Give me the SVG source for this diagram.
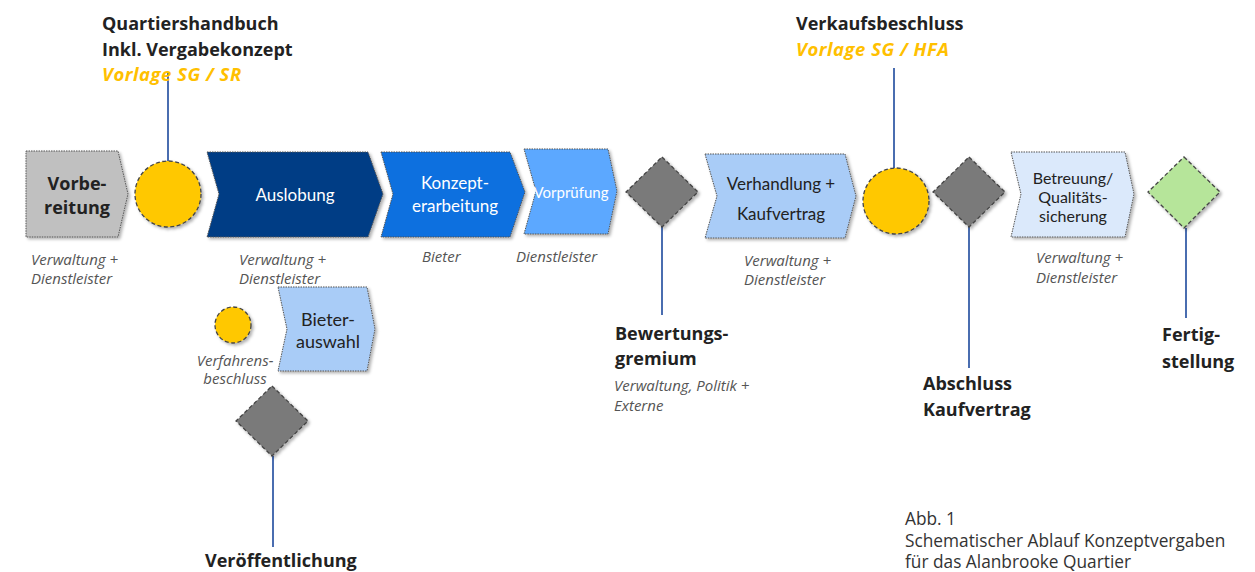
<svg xmlns="http://www.w3.org/2000/svg" width="1255" height="572" viewBox="0 0 1255 572">
<defs>
<filter id="sh" x="-20%" y="-20%" width="150%" height="150%">
<feDropShadow dx="2" dy="2" stdDeviation="1.5" flood-color="#000" flood-opacity="0.3"/>
</filter>
<style>
.chev{stroke:#555;stroke-width:1;stroke-dasharray:1.5 1;filter:url(#sh)}
.ev{stroke:#444;stroke-width:1.3;stroke-dasharray:4 2.5;filter:url(#sh)}
.conn{stroke:#4a6db0;stroke-width:2;fill:none}
.t{font-family:Lato,"Liberation Sans",sans-serif}
.bold{font-family:"Open Sans",sans-serif;font-weight:bold;font-size:18px;fill:#222}
.gold{font-family:"Open Sans",sans-serif;font-weight:bold;font-style:italic;font-size:18.5px;letter-spacing:0.5px;fill:#ffc000}
.role{font-family:"Open Sans",sans-serif;font-style:italic;font-size:15px;fill:#555}
.cap{font-family:"Open Sans",sans-serif;font-size:17.3px;fill:#333}
</style>
</defs>
<rect width="1255" height="572" fill="#fff"/>
<g id="connectors">
<line class="conn" x1="168" y1="161" x2="168" y2="72"/>
<line class="conn" x1="662" y1="227" x2="662" y2="315"/>
<line class="conn" x1="894" y1="168" x2="894" y2="68"/>
<line class="conn" x1="969" y1="227" x2="969" y2="368"/>
<line class="conn" x1="1186" y1="228" x2="1186" y2="318"/>
<line class="conn" x1="273" y1="456" x2="273" y2="547"/>
</g>
<g id="vorbereitung">
<path class="chev" d="M26,151 L118,151 L128,194 L118,237 L26,237 Z" fill="#c0c0c0"/>
<text class="bold" x="77" y="190" text-anchor="middle">Vorbe-</text>
<text class="bold" x="77" y="214" text-anchor="middle">reitung</text>
<text class="role" x="31" y="265">Verwaltung +</text>
<text class="role" x="31" y="284">Dienstleister</text>
</g>
<g id="quartiershandbuch">
<circle class="ev" cx="168" cy="194" r="33" fill="#ffc800"/>
<text class="bold" x="102" y="30">Quartiershandbuch</text>
<text class="bold" x="102" y="56">Inkl. Vergabekonzept</text>
<text class="gold" x="102" y="81">Vorlage SG / SR</text>
</g>
<g id="auslobung">
<path class="chev" d="M207,152 L368,152 L383,194 L368,237 L207,237 L219,194 Z" fill="#003d85"/>
<text class="t" x="295" y="201" text-anchor="middle" font-size="17" fill="#fff">Auslobung</text>
<text class="role" x="239" y="265">Verwaltung +</text>
<text class="role" x="239" y="284">Dienstleister</text>
</g>
<g id="konzepterarbeitung">
<path class="chev" d="M381,152 L510,152 L525,192 L510,237 L381,237 L393,194 Z" fill="#0a6fdf"/>
<text class="t" x="455" y="189" text-anchor="middle" font-size="17" fill="#fff">Konzept-</text>
<text class="t" x="455" y="212" text-anchor="middle" font-size="17" fill="#fff">erarbeitung</text>
<text class="role" x="422" y="262">Bieter</text>
</g>
<g id="vorpruefung">
<path class="chev" d="M524,149 L608,149 L617,191 L608,234 L524,234 L536,191 Z" fill="#5ba8ff"/>
<text class="t" x="571" y="198" text-anchor="middle" font-size="15" fill="#fff">Vorprüfung</text>
<text class="role" x="516" y="262">Dienstleister</text>
</g>
<g id="bewertungsgremium">
<path class="ev" d="M662,157 L698,192 L662,227 L626,192 Z" fill="#7a7a7a"/>
<text class="bold" x="615" y="340">Bewertungs-</text>
<text class="bold" x="615" y="365">gremium</text>
<text class="role" x="614" y="391">Verwaltung, Politik +</text>
<text class="role" x="614" y="411">Externe</text>
</g>
<g id="verhandlung">
<path class="chev" d="M705,154 L845,154 L856,196 L845,238 L705,238 L717,196 Z" fill="#a9ccf7"/>
<text class="t" x="781" y="190" text-anchor="middle" font-size="17" fill="#222">Verhandlung +</text>
<text class="t" x="781" y="220" text-anchor="middle" font-size="17" fill="#222">Kaufvertrag</text>
<text class="role" x="744" y="266">Verwaltung +</text>
<text class="role" x="744" y="285">Dienstleister</text>
</g>
<g id="verkaufsbeschluss">
<circle class="ev" cx="896" cy="201" r="33" fill="#ffc800"/>
<text class="bold" x="796" y="30">Verkaufsbeschluss</text>
<text class="gold" x="796" y="56">Vorlage SG / HFA</text>
</g>
<g id="abschluss">
<path class="ev" d="M969,157 L1005,192 L969,227 L933,192 Z" fill="#7a7a7a"/>
<text class="bold" x="923" y="390">Abschluss</text>
<text class="bold" x="923" y="416">Kaufvertrag</text>
</g>
<g id="betreuung">
<path class="chev" d="M1011,152 L1125,152 L1134,194 L1125,237 L1011,237 L1021,194 Z" fill="#dbe9fb"/>
<text class="t" x="1073" y="184" text-anchor="middle" font-size="16" fill="#222">Betreuung/</text>
<text class="t" x="1073" y="203" text-anchor="middle" font-size="16" fill="#222">Qualitäts-</text>
<text class="t" x="1073" y="222" text-anchor="middle" font-size="16" fill="#222">sicherung</text>
<text class="role" x="1036" y="263">Verwaltung +</text>
<text class="role" x="1036" y="283">Dienstleister</text>
</g>
<g id="fertigstellung">
<path class="ev" d="M1184,157 L1220,192 L1184,228 L1148,192 Z" fill="#b6e59a"/>
<text class="bold" x="1162" y="341">Fertig-</text>
<text class="bold" x="1162" y="368">stellung</text>
</g>
<g id="verfahrensbeschluss">
<circle class="ev" cx="233" cy="325" r="18" fill="#ffc800"/>
<text class="role" x="235" y="366" text-anchor="middle">Verfahrens-</text>
<text class="role" x="235" y="384" text-anchor="middle">beschluss</text>
</g>
<g id="bieterauswahl">
<path class="chev" d="M278,287 L367,287 L375,329 L367,371 L278,371 L287,329 Z" fill="#a9ccf7"/>
<text class="t" x="328" y="326" text-anchor="middle" font-size="18" fill="#222">Bieter-</text>
<text class="t" x="328" y="348" text-anchor="middle" font-size="18" fill="#222">auswahl</text>
</g>
<g id="veroeffentlichung">
<path class="ev" d="M272,386 L308,421 L272,456 L236,421 Z" fill="#7a7a7a"/>
<text class="bold" x="205" y="567">Veröffentlichung</text>
</g>
<g id="caption">
<text class="cap" x="905" y="525">Abb. 1</text>
<text class="cap" x="905" y="547">Schematischer Ablauf Konzeptvergaben</text>
<text class="cap" x="905" y="568">für das Alanbrooke Quartier</text>
</g>
</svg>
